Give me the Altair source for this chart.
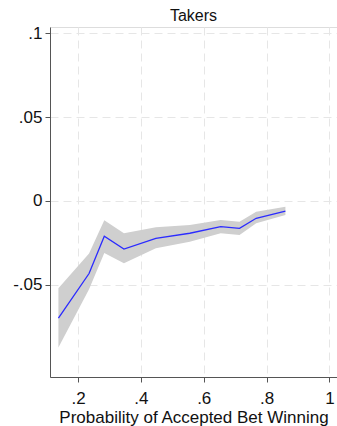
import altair as alt
import pandas as pd

# Estimated effect by probability of the accepted bet winning, with 95% CI
prob = [0.1375, 0.235, 0.2835, 0.346, 0.4476, 0.5556, 0.654, 0.714, 0.767, 0.860]
coef = [-0.0698, -0.0432, -0.0210, -0.0286, -0.0222, -0.0192, -0.0153, -0.0163, -0.0103, -0.0060]
ci_lo = [-0.0872, -0.0525, -0.0310, -0.0371, -0.0282, -0.0242, -0.0192, -0.0202, -0.0133, -0.0083]
ci_hi = [-0.0520, -0.0312, -0.0115, -0.0192, -0.0157, -0.0143, -0.0113, -0.0123, -0.0064, -0.0034]

x_ticks = [0.2, 0.4, 0.6, 0.8, 1.0]
y_ticks = [-0.05, 0.0, 0.05, 0.1]

df = pd.DataFrame({"p": prob, "b": coef, "lo": ci_lo, "hi": ci_hi})

FONT = "Liberation Sans"
label_expr = "datum.value == 0 ? '0' : replace(toString(datum.value), '0.', '.')"

x_scale = alt.Scale(domain=[0.1107, 1.0242], nice=False, zero=False)
y_scale = alt.Scale(domain=[-0.1048, 0.1036], nice=False, zero=False)

x_axis = alt.Axis(
    values=x_ticks, labelExpr=label_expr, title="Probability of Accepted Bet Winning",
    grid=True, gridDash=[8, 5], gridColor="#e6e6e6", gridWidth=1,
    domainColor="#555555", tickColor="#555555", tickSize=5,
    labelFont=FONT, labelFontSize=17, labelColor="#111111",
    labelBaseline="alphabetic", labelPadding=21,
    titleFont=FONT, titleFontSize=17, titleFontWeight="normal", titleColor="#111111",
    titleBaseline="alphabetic", titleY=45, titleX=143.5, titleAnchor="middle",
)
y_axis = alt.Axis(
    values=y_ticks, labelExpr=label_expr, title=None,
    grid=True, gridDash=[8, 5], gridColor="#e6e6e6", gridWidth=1,
    domainColor="#555555", tickColor="#555555", tickSize=5,
    labelFont=FONT, labelFontSize=17, labelColor="#111111", labelPadding=3,
)

band = alt.Chart(df).mark_area(color="#cfcfcf", opacity=1).encode(
    x=alt.X("p:Q", scale=x_scale, axis=x_axis),
    y=alt.Y("lo:Q", scale=y_scale, axis=y_axis),
    y2="hi:Q",
)

line = alt.Chart(df).mark_line(color="#2b2bff", strokeWidth=1.3).encode(
    x=alt.X("p:Q", scale=x_scale),
    y=alt.Y("b:Q", scale=y_scale),
)

chart = (
    alt.layer(band, line)
    .properties(
        width=287,
        height=350,
        autosize=alt.AutoSizeParams(type="none"),
        padding={"left": 50, "top": 27, "right": 0, "bottom": 49},
        title=alt.TitleParams(
            "Takers", font=FONT, fontSize=16, fontWeight="normal",
            color="#111111", anchor="middle", offset=0,
        ),
    )
    .configure_view(stroke=None)
    .configure(background="white")
)

chart.save("out.html", embed_options={"renderer": "svg", "actions": False})
